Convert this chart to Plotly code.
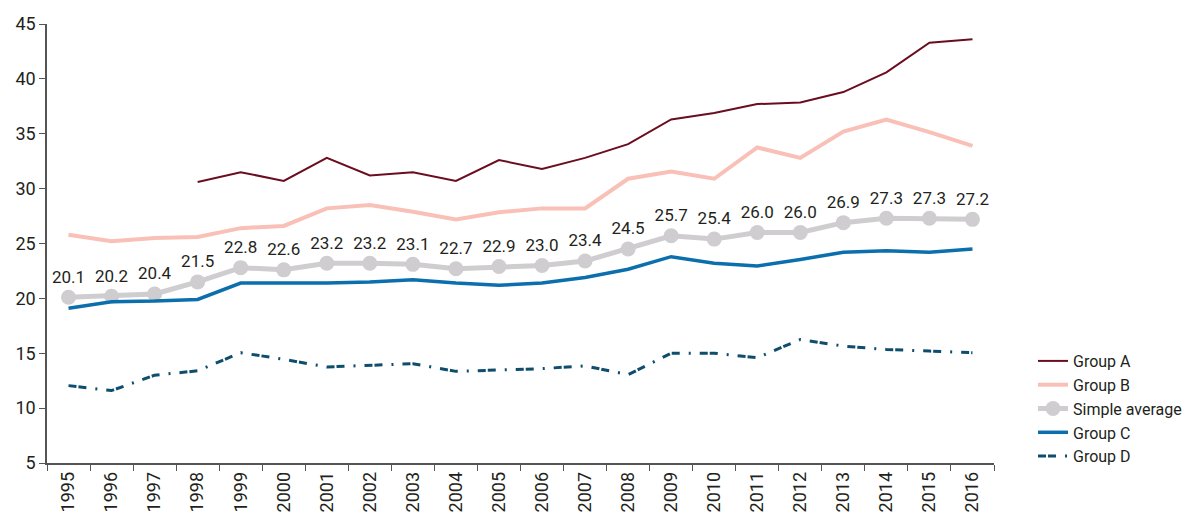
import plotly.graph_objects as go

years = [str(y) for y in range(1995, 2017)]

group_a = [None, None, None, 30.6, 31.5, 30.7, 32.8, 31.2, 31.5, 30.7, 32.6,
           31.8, 32.8, 34.05, 36.3, 36.9, 37.7, 37.85, 38.8, 40.6, 43.3, 43.6]
group_b = [25.8, 25.2, 25.5, 25.6, 26.4, 26.6, 28.2, 28.5, 27.9, 27.2, 27.85,
           28.2, 28.2, 30.9, 31.55, 30.9, 33.75, 32.8, 35.2, 36.3, 35.15, 33.9]
simple_avg = [20.1, 20.2, 20.4, 21.5, 22.8, 22.6, 23.2, 23.2, 23.1, 22.7, 22.9,
              23.0, 23.4, 24.5, 25.7, 25.4, 26.0, 26.0, 26.9, 27.3, 27.3, 27.2]
group_c = [19.1, 19.7, 19.75, 19.9, 21.4, 21.4, 21.4, 21.5, 21.7, 21.4, 21.2,
           21.4, 21.9, 22.65, 23.8, 23.2, 22.95, 23.55, 24.2, 24.35, 24.2, 24.5]
group_d = [12.05, 11.6, 13.0, 13.4, 15.05, 14.45, 13.75, 13.9, 14.05, 13.35, 13.45,
           13.6, 13.85, 13.05, 15.0, 15.0, 14.6, 16.25, 15.65, 15.35, 15.2, 15.05]

y_ticks = [5, 10, 15, 20, 25, 30, 35, 40, 45]

FONT = "Roboto, sans-serif"
TEXT = "#231f20"

fig = go.Figure()

fig.add_trace(go.Scatter(
    x=years, y=group_a, name="Group A", mode="lines",
    line=dict(color="#6a0d1f", width=2),
))
fig.add_trace(go.Scatter(
    x=years, y=group_b, name="Group B", mode="lines",
    line=dict(color="#f9c0b8", width=4),
))
fig.add_trace(go.Scatter(
    x=years, y=simple_avg, name="Simple average", mode="lines+markers+text",
    line=dict(color="#cfcdcf", width=5),
    marker=dict(color="#cfcdcf", size=15),
    text=[f"{v:.1f}" for v in simple_avg],
    textposition="top center",
    textfont=dict(family=FONT, size=17, color=TEXT),
))
fig.add_trace(go.Scatter(
    x=years, y=group_c, name="Group C", mode="lines",
    line=dict(color="#0c6fad", width=3.5),
))
fig.add_trace(go.Scatter(
    x=years, y=group_d, name="Group D", mode="lines",
    line=dict(color="#0e4d6b", width=3, dash="8px,2px,8px,9px,2px,9px"),
))

fig.update_layout(
    width=1200, height=517,
    margin=dict(l=47, r=206, t=24, b=54, autoexpand=False),
    paper_bgcolor="white", plot_bgcolor="white",
    font=dict(family=FONT, size=17, color=TEXT),
    showlegend=True,
    legend=dict(
        xref="container", yref="container",
        x=1033 / 1200, xanchor="left",
        y=1 - 344 / 517, yanchor="top",
        font=dict(family=FONT, size=16, color=TEXT),
        tracegroupgap=0, itemwidth=30,
        bgcolor="rgba(0,0,0,0)",
    ),
)

fig.update_xaxes(
    type="category", tickson="boundaries", automargin=False,
    range=[-0.5, len(years) - 0.5],
    showline=True, linecolor="#555555", linewidth=1.5,
    ticks="outside", ticklen=6, tickcolor="#555555",
    tickangle=-90, showgrid=False, zeroline=False,
    tickfont=dict(family=FONT, size=18, color=TEXT),
)
fig.update_yaxes(
    range=[5, 45], tickvals=y_ticks, automargin=False,
    showline=True, linecolor="#555555", linewidth=1.5,
    ticks="outside", ticklen=6, tickcolor="#555555",
    showgrid=False, zeroline=False,
    tickfont=dict(family=FONT, size=18, color=TEXT),
)

fig.write_html("out.html")
